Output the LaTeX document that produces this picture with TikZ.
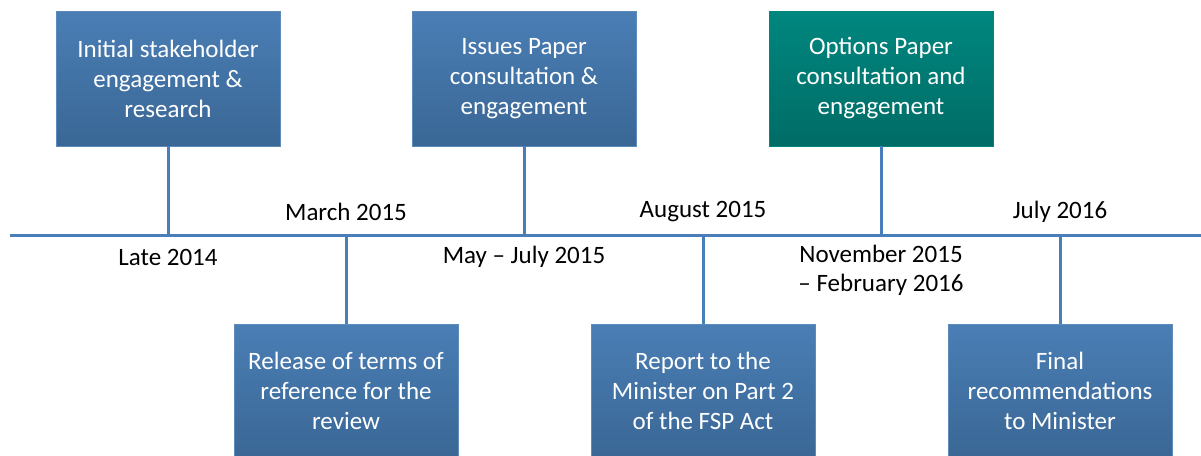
\documentclass[tikz,border=0pt]{standalone}
\usepackage{fontspec}
\setmainfont{Carlito}
\definecolor{boxtop}{HTML}{4A7EB5}
\definecolor{boxbot}{HTML}{3A6795}
\definecolor{tealtop}{HTML}{00877F}
\definecolor{tealbot}{HTML}{006C66}
\definecolor{lineblue}{HTML}{4A7EBB}
\begin{document}
\begin{tikzpicture}
[x=1pt,y=-1pt,
  stagedecorate/.style={shape=rectangle,minimum width=224pt,inner sep=0pt,
    top color=boxtop,bottom color=boxbot,draw=boxtop!90,line width=0.6pt,
    text=white,align=center,font=\fontsize{25}{30}\selectfont},
  datedecorate/.style={align=center,font=\fontsize{25}{29}\selectfont},
  linedecorate/.style={-,draw=lineblue,line width=3pt}]
\useasboundingbox (0,0) rectangle (1201,455);
% boxes above the line
\node (a) at (168,78.5) [stagedecorate,minimum height=135pt] {Initial stakeholder\\engagement \&\\research};
\node (c) at (524,78.5) [stagedecorate,minimum height=135pt] {Issues Paper\\consultation \&\\engagement};
\node (e) at (881,78.5) [stagedecorate,minimum height=135pt,top color=tealtop,bottom color=tealbot,draw=tealtop] {Options Paper\\consultation and\\engagement};
% boxes below the line
\node (b) at (346,390.5) [stagedecorate,minimum height=133pt] {Release of terms of\\reference for the\\review};
\node (d) at (703,390.5) [stagedecorate,minimum height=133pt] {Report to the\\Minister on Part 2\\of the FSP Act};
\node (f) at (1060,390.5) [stagedecorate,minimum height=133pt] {Final\\recommendations\\to Minister};
% points on the line
\coordinate (start) at (10,235);
\coordinate (end) at (1201,235);
\coordinate (ta) at (168,235);
\coordinate (tb) at (346,235);
\coordinate (tc) at (524,235);
\coordinate (td) at (703,235);
\coordinate (te) at (881,235);
\coordinate (tf) at (1060,235);
% dates
\node (la) at (168,257) [datedecorate] {Late 2014};
\node (lb) at (346,212) [datedecorate] {March 2015};
\node (lc) at (524,257) [datedecorate] {May -- July 2015};
\node (ld) at (703,212) [datedecorate] {August 2015};
\node (le) at (881,270.5) [datedecorate] {November 2015\\-- February 2016};
\node (lf) at (1060,212) [datedecorate] {July 2016};
% edges or lines
\path
(start) edge[linedecorate] (end)
(a) edge[linedecorate] (ta)
(b) edge[linedecorate] (tb)
(c) edge[linedecorate] (tc)
(d) edge[linedecorate] (td)
(e) edge[linedecorate] (te)
(f) edge[linedecorate] (tf);
\end{tikzpicture}
\end{document}
